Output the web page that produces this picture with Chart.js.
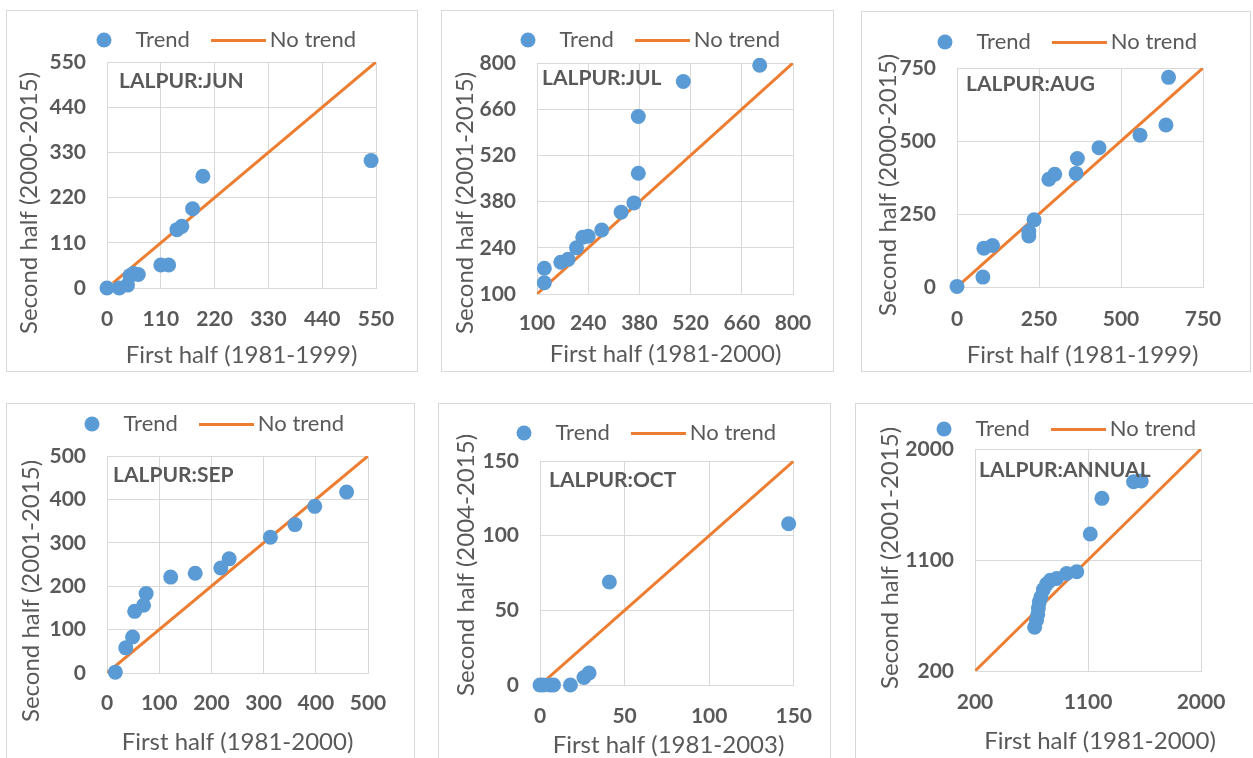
<!DOCTYPE html>
<html>
<head>
<meta charset="utf-8">
<script src="https://cdn.jsdelivr.net/npm/chart.js@4.4.1/dist/chart.umd.min.js"></script>
<style>
  body { margin: 0; background: #fff; width: 1253px; height: 758px; overflow: hidden; position: relative; }
  .box { position: absolute; border: 1px solid #d9d9d9; box-sizing: border-box; }
  canvas { position: absolute; }
</style>
</head>
<body>
<script>
// values
const JUN_X = [0, 25, 42, 47, 54, 64, 110, 126, 143, 153, 175, 196, 540];
const JUN_Y = [0, 0, 7, 30, 35, 33, 56, 56, 142, 150, 193, 272, 310];
const JUN_TICKS = [0, 110, 220, 330, 440, 550];
const JUN_LINE = [12, 550];

const JUL_X = [120, 120, 165, 185, 208, 225, 240, 277, 330, 365, 377, 377, 500, 709];
const JUL_Y = [134, 178, 196, 205, 240, 272, 275, 294, 348, 376, 466, 638, 744, 793];
const JUL_TICKS = [100, 240, 380, 520, 660, 800];
const JUL_LINE = [100, 800];

const AUG_X = [0, 79, 82, 108, 219, 219, 235, 280, 298, 363, 367, 433, 558, 637, 645];
const AUG_Y = [2, 34, 133, 142, 175, 190, 230, 369, 386, 389, 440, 477, 520, 555, 718];
const AUG_TICKS = [0, 250, 500, 750];
const AUG_LINE = [8, 750];

const SEP_X = [16, 36, 49, 53, 70, 75, 122, 169, 218, 234, 313, 360, 398, 459];
const SEP_Y = [2, 58, 83, 142, 156, 183, 221, 230, 242, 263, 313, 342, 384, 417];
const SEP_TICKS = [0, 100, 200, 300, 400, 500];
const SEP_LINE = [0, 500];

const OCT_X = [0, 2, 6, 8, 18, 26, 29, 41, 147];
const OCT_Y = [0, 0, 0, 0, 0, 5, 8, 69, 108];
const OCT_TICKS = [0, 50, 100, 150];
const OCT_LINE = [4, 150];

const ANN_X = [675, 690, 700, 705, 712, 725, 745, 770, 800, 850, 930, 1010, 1118, 1211, 1463, 1524];
const ANN_Y = [555, 610, 660, 710, 760, 800, 860, 905, 935, 950, 990, 1005, 1311, 1600, 1735, 1741];
const ANN_TICKS = [200, 1100, 2000];
const ANN_LINE = [200, 2000];

const STATIONS = ['LALPUR:JUN', 'LALPUR:JUL', 'LALPUR:AUG', 'LALPUR:SEP', 'LALPUR:OCT', 'LALPUR:ANNUAL'];
const X_TITLES = ['First half (1981-1999)', 'First half (1981-2000)', 'First half (1981-1999)',
                  'First half (1981-2000)', 'First half (1981-2003)', 'First half (1981-2000)'];
const Y_TITLES = ['Second half (2000-2015)', 'Second half (2001-2015)', 'Second half (2000-2015)',
                  'Second half (2001-2015)', 'Second half (2004-2015)', 'Second half (2001-2015)'];

const panels = [
  { xs: JUN_X, ys: JUN_Y, ticks: JUN_TICKS, line: JUN_LINE },
  { xs: JUL_X, ys: JUL_Y, ticks: JUL_TICKS, line: JUL_LINE },
  { xs: AUG_X, ys: AUG_Y, ticks: AUG_TICKS, line: AUG_LINE },
  { xs: SEP_X, ys: SEP_Y, ticks: SEP_TICKS, line: SEP_LINE },
  { xs: OCT_X, ys: OCT_Y, ticks: OCT_TICKS, line: OCT_LINE },
  { xs: ANN_X, ys: ANN_Y, ticks: ANN_TICKS, line: ANN_LINE },
];

// page positions: frame, plot area, legend dot, titles, station label
const layout = [
  { box: [6, 10, 418, 372], area: [107, 62, 376, 288], dot: [104, 40], yT: [29, 203], xT: [241.5, 355], lab: [119, 81.5], padX: 19 },
  { box: [441, 10, 834, 372], area: [537, 63, 793, 294], dot: [528, 40], yT: [465, 203], xT: [665.5, 354], lab: [542, 78], padX: 17 },
  { box: [861, 11, 1251, 372], area: [957, 68, 1203, 287], dot: [945, 42], yT: [888, 185], xT: [1082.5, 355], lab: [966, 84], padX: 20 },
  { box: [6, 403, 415, 770], area: [107, 456, 368, 673], dot: [92, 424], yT: [31, 591], xT: [237.5, 742.5], lab: [113, 475.5], padX: 18 },
  { box: [438, 403, 831, 770], area: [540, 461, 796, 685], dot: [524, 433], yT: [466, 565], xT: [668.5, 745.5], lab: [549, 480], padX: 19 },
  { box: [855, 403, 1260, 770], area: [975, 449, 1201, 671], dot: [944, 429], yT: [890, 558], xT: [1100, 741], lab: [979, 470], padX: 19 },
];

const BLUE = '#5B9BD5', ORANGE = '#ED7D31', GRID = '#D9D9D9', TEXT = '#595959';
const LEG_FONT = 22, LEG_PAD = 28, LEG_BOX = 41;
const LEG_H = LEG_FONT + LEG_PAD + 10; // what chart.js reserves for a one-row legend

Chart.defaults.font.family = 'Lato';
Chart.defaults.color = TEXT;

function swatch(w, h, draw) {
  const c = document.createElement('canvas');
  c.width = w;
  c.height = h;
  draw(c.getContext('2d'));
  return c;
}
const dotImg = swatch(16, 16, ctx => {
  ctx.fillStyle = BLUE;
  ctx.beginPath();
  ctx.arc(8, 8, 7.5, 0, Math.PI * 2);
  ctx.fill();
});
const lineImg = swatch(55, 3, ctx => {
  ctx.fillStyle = ORANGE;
  ctx.fillRect(0, 0, 55, 3);
});

// moves the legend where Excel put it, and writes the titles
const panelText = {
  id: 'panelText',
  afterLayout(chart, args, o) {
    const lg = chart.legend;
    lg.left = o.dot[0] - LEG_BOX / 2 - LEG_PAD;
    lg.right = lg.left + 600;
    lg.top = o.dot[1] - LEG_PAD - LEG_FONT / 2;
    lg.bottom = lg.top + LEG_H;
  },
  afterDraw(chart, args, o) {
    const ctx = chart.ctx;
    ctx.save();
    ctx.fillStyle = TEXT;
    ctx.textBaseline = 'middle';
    ctx.textAlign = 'center';
    ctx.font = '24px Lato';
    ctx.fillText(o.xTitle, o.xT[0], o.xT[1]);
    ctx.save();
    ctx.translate(o.yT[0], o.yT[1]);
    ctx.rotate(-Math.PI / 2);
    ctx.fillText(o.yTitle, 0, 0);
    ctx.restore();
    ctx.textAlign = 'left';
    ctx.font = 'bold 21px Lato';
    ctx.fillText(o.label, o.lab[0], o.lab[1]);
    ctx.restore();
  }
};

panels.forEach((p, i) => {
  const L = layout[i];
  const cl = L.box[0];
  const ct = L.area[1] - LEG_H;
  const cw = Math.min(L.box[2], 1253) - cl;
  const ch = Math.min(L.box[3], 758) - ct;

  const box = document.createElement('div');
  box.className = 'box';
  box.style.left = L.box[0] + 'px';
  box.style.top = L.box[1] + 'px';
  box.style.width = (L.box[2] - L.box[0]) + 'px';
  box.style.height = (L.box[3] - L.box[1]) + 'px';
  document.body.appendChild(box);

  const canvas = document.createElement('canvas');
  canvas.width = cw;
  canvas.height = ch;
  canvas.style.left = cl + 'px';
  canvas.style.top = ct + 'px';
  document.body.appendChild(canvas);

  const lo = p.ticks[0], hi = p.ticks[p.ticks.length - 1];
  const step = p.ticks[1] - p.ticks[0];
  const tickFont = { size: 21, weight: 'bold' };
  const plain = v => String(v);

  new Chart(canvas, {
    type: 'scatter',
    data: {
      datasets: [
        {
          label: 'Trend',
          data: p.xs.map((x, k) => ({ x: x, y: p.ys[k] })),
          backgroundColor: BLUE,
          borderColor: BLUE,
          pointRadius: 7.5,
          pointHoverRadius: 7.5,
          borderWidth: 0,
          clip: false
        },
        {
          type: 'line',
          label: 'No trend',
          data: [{ x: p.line[0], y: p.line[0] }, { x: p.line[1], y: p.line[1] }],
          borderColor: ORANGE,
          backgroundColor: ORANGE,
          borderWidth: 3,
          pointRadius: 0,
          pointStyle: 'line',
          fill: false
        }
      ]
    },
    options: {
      responsive: false,
      animation: false,
      devicePixelRatio: 1,
      layout: {
        autoPadding: false,
        padding: { left: 0, top: 0, right: cl + cw - L.area[2], bottom: 0 }
      },
      scales: {
        x: {
          type: 'linear',
          min: lo, max: hi,
          ticks: { stepSize: step, padding: L.padX, font: tickFont, color: TEXT, maxRotation: 0, callback: plain },
          grid: { color: GRID, drawTicks: false },
          border: { color: GRID },
          afterFit: s => { s.height = ct + ch - L.area[3]; }
        },
        y: {
          type: 'linear',
          min: lo, max: hi,
          ticks: { stepSize: step, padding: 21, font: tickFont, color: TEXT, callback: plain },
          grid: { color: GRID, drawTicks: false },
          border: { color: GRID },
          afterFit: s => { s.width = L.area[0] - cl; }
        }
      },
      plugins: {
        tooltip: { enabled: false },
        legend: {
          position: 'top',
          align: 'start',
          labels: {
            usePointStyle: true,
            pointStyleWidth: LEG_BOX,
            padding: LEG_PAD,
            color: TEXT,
            font: { size: LEG_FONT },
            generateLabels: chart => {
              const items = Chart.defaults.plugins.legend.labels.generateLabels(chart);
              items[0].pointStyle = dotImg;
              items[1].pointStyle = lineImg;
              return items;
            }
          }
        },
        panelText: {
          dot: [L.dot[0] - cl, L.dot[1] - ct],
          xT: [L.xT[0] - cl, L.xT[1] - ct],
          yT: [L.yT[0] - cl, L.yT[1] - ct],
          lab: [L.lab[0] - cl, L.lab[1] - ct],
          xTitle: X_TITLES[i],
          yTitle: Y_TITLES[i],
          label: STATIONS[i]
        }
      }
    },
    plugins: [panelText]
  });
});
</script>
</body>
</html>
